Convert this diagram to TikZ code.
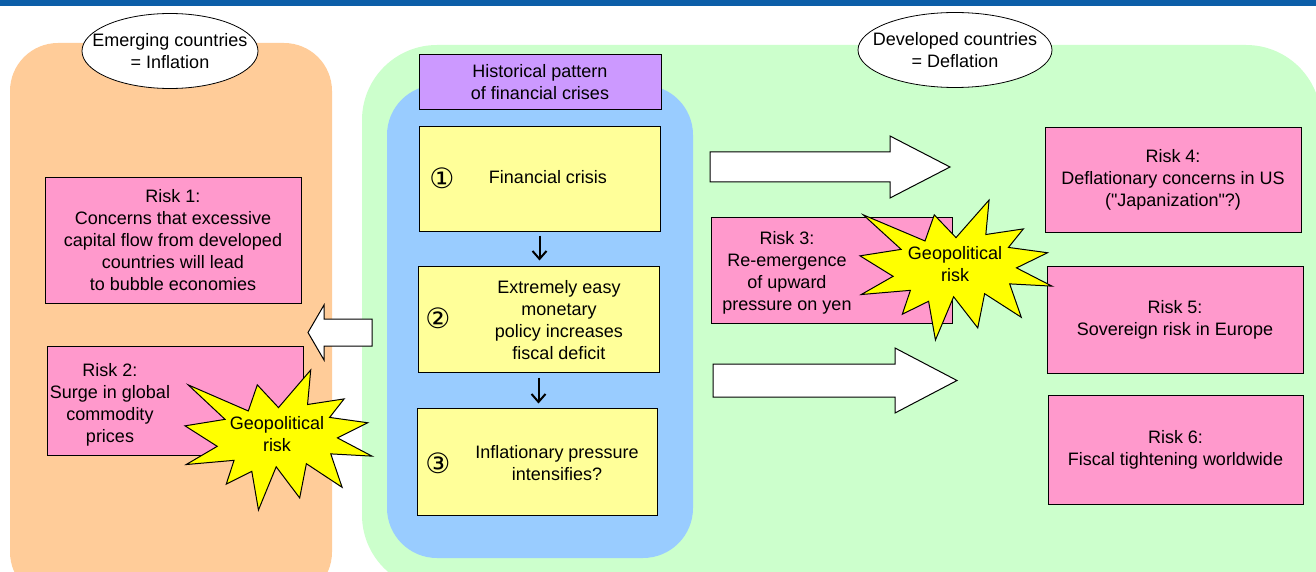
\documentclass[tikz,border=0pt]{standalone}
\usepackage{fontspec}
\setmainfont{Liberation Sans}[Ligatures=TeXOff]
\newfontfamily\circfont{DejaVu Sans}
\usetikzlibrary{shapes.geometric,arrows.meta}

\definecolor{barblue}{RGB}{12,94,168}
\definecolor{emergbg}{RGB}{255,204,153}
\definecolor{develbg}{RGB}{204,255,204}
\definecolor{crisisbg}{RGB}{153,204,255}
\definecolor{histpurple}{RGB}{204,153,255}
\definecolor{stepyellow}{RGB}{255,255,153}
\definecolor{riskpink}{RGB}{255,153,204}
\definecolor{burstyellow}{RGB}{255,255,0}

\tikzset{
  lbl/.style={align=center, inner sep=0pt, font=\fontsize{18}{22}\selectfont},
  riskbox/.style={lbl, draw, fill=riskpink, line width=1pt},
  stepbox/.style={draw, fill=stepyellow, line width=1pt},
  headbox/.style={lbl, draw, fill=histpurple, line width=1pt},
  oval/.style={ellipse, draw, fill=white, line width=0.8pt, inner sep=0pt},
  burst/.style={draw, fill=burstyellow, line width=1pt},
  blockarrow/.style={draw, fill=white, line width=1pt},
  flowarrow/.style={-{Straight Barb[length=8pt,width=14pt]}, line width=2pt},
  num/.style={inner sep=0pt, font=\circfont\fontsize{28}{28}\selectfont}
}

% explosion shape: left, top, width, height
\newcommand{\geoburst}[4]{%
  \begin{scope}[shift={(#1,#2)}, xscale=#3/216, yscale=#4/216]
    \draw[burst] (108,58)
      \foreach \bx/\by in {145.22/0, 141.55/53.25, 183.80/44.57, 167.02/73.15,
        210.97/81.37, 176.07/104.75, 216/132.90, 168.37/129.42, 181.45/180.95,
        140.20/144.57, 132.47/197.37, 105.32/149.35, 84.85/216, 77.15/156.27,
        47.62/176.17, 56.67/139.37, 1.35/145.87, 37.22/117.75, 0/86.15,
        46.27/76.17, 3.70/22.95, 73.12/63.20, 83.52/22.95} { -- (\bx,\by) }
      -- cycle;
  \end{scope}}

\begin{document}
\begin{tikzpicture}[x=1pt,y=-1pt]
  \useasboundingbox (0,0) rectangle (1316,572);
  \clip (0,0) rectangle (1316,572);
  \fill[white] (0,0) rectangle (1316,572);
  \fill[barblue] (0,0) rectangle (1316,6);

% the three panels
  \fill[emergbg, rounded corners=48] (10,43) rectangle (332,600);
  \fill[develbg] (1321,590) [rounded corners=75] -- (362,590) -- (362,45)
    -- (1321,45) [rounded corners=100] -- (1321,300) [sharp corners] -- cycle;
  \fill[crisisbg, rounded corners=50] (387,85) rectangle (693,558);

  \node[oval, minimum width=176pt, minimum height=75pt] (emerg) at (170,51) {};
  \node[lbl] (emergtxt) at (emerg) {Emerging countries\\= Inflation};
  \node[oval, minimum width=194pt, minimum height=75pt] (devel) at (955,50) {};
  \node[lbl] (develtxt) at (devel) {Developed countries\\= Deflation};

% historical pattern
  \node[headbox, minimum width=242pt, minimum height=55pt] (hist) at (540,82.5)
    {Historical pattern\\of financial crises};
  \node[stepbox, minimum width=241pt, minimum height=104pt] (b1) at (539.5,179) {};
  \node[stepbox, minimum width=241pt, minimum height=106pt] (b2) at (538.5,319) {};
  \node[stepbox, minimum width=240pt, minimum height=107pt] (b3) at (537,461.5) {};
  \node[num] (n1) at (442,178) {①};
  \node[num] (n2) at (438,318) {②};
  \node[num] (n3) at (438,463) {③};
  \node[lbl] (t1) at (548,177) {Financial crisis};
  \node[lbl] (t2) at (559,320) {Extremely easy\\monetary\\policy increases\\fiscal deficit};
  \node[lbl] (t3) at (557,463) {Inflationary pressure\\intensifies?};
  \draw[flowarrow, shorten <=4pt, shorten >=5pt] (b1.south) -- (b1.south |- b2.north);
  \draw[flowarrow, shorten <=5pt, shorten >=4pt] (b2.south) -- (b2.south |- b3.north);

% risks
  \node[riskbox, minimum width=256pt, minimum height=125pt] (r1) at (173,240.5)
    {Risk 1:\\Concerns that excessive\\capital flow from developed\\countries will lead\\to bubble economies};
  \node[riskbox, minimum width=256pt, minimum height=109pt] (r2) at (175,400.5) {};
  \node[lbl] (r2txt) at (110,405) {Risk 2:\\Surge in global\\commodity\\prices};
  \node[riskbox, minimum width=241pt, minimum height=106pt] (r3) at (831.5,270) {};
  \node[lbl] (r3txt) at (787,273) {Risk 3:\\Re-emergence\\of upward\\pressure on yen};
  \node[riskbox, minimum width=256pt, minimum height=104pt] (r4) at (1173,180)
    {Risk 4:\\Deflationary concerns in US\\("Japanization"?)};
  \node[riskbox, minimum width=256pt, minimum height=107pt] (r5) at (1175,319.5)
    {Risk 5:\\Sovereign risk in Europe};
  \node[riskbox, minimum width=255pt, minimum height=109pt] (r6) at (1175.5,449.5)
    {Risk 6:\\Fiscal tightening worldwide};

% block arrows
  \draw[blockarrow] (710,152) -- (890,152) -- (890,136) -- (950,167)
    -- (890,198) -- (890,182) -- (710,182) -- cycle;
  \draw[blockarrow] (713,364) -- (895,364) -- (895,348) -- (957,380.5)
    -- (895,413) -- (895,397) -- (713,397) -- cycle;
  \draw[blockarrow] (372,319) -- (324,319) -- (324,305) -- (308,332.5)
    -- (324,360) -- (324,346) -- (372,346) -- cycle;

% geopolitical risk
  \geoburst{185}{370}{187}{140}
  \node[lbl] (geo1) at (277,434) {Geopolitical\\risk};
  \geoburst{860}{200}{192}{140}
  \node[lbl] (geo2) at (955,264.5) {Geopolitical\\risk};
\end{tikzpicture}
\end{document}
